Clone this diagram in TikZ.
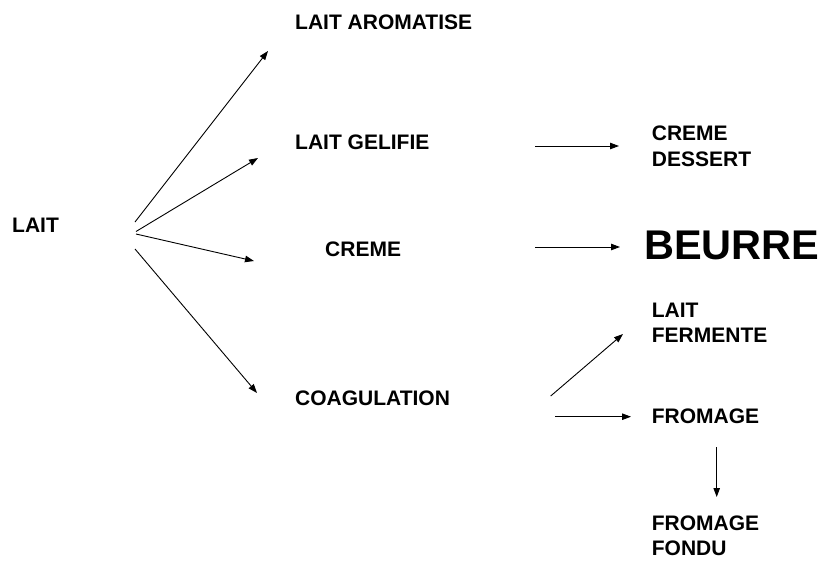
\documentclass[tikz,border=0pt]{standalone}
\usepackage{fontspec}
\setmainfont{Liberation Sans}
\usetikzlibrary{arrows.meta}
% two stacked lines whose baseline is the first line's
\newcommand{\twolines}[2]{\vtop{\baselineskip=25.5pt\hbox{#1}\hbox{#2}}}
\tikzset{
  label text/.style={anchor=base west, inner sep=0pt, font=\bfseries\fontsize{21}{25}\selectfont},
  big text/.style={anchor=base west, inner sep=0pt, font=\bfseries\fontsize{41.5}{46}\selectfont},
  flow/.style={line width=0.9pt, -{Triangle[length=9pt,width=6.5pt]}}
}
\begin{document}
\begin{tikzpicture}[x=1pt,y=-1pt]
\useasboundingbox (0,0) rectangle (824,562);
% products
\node[label text] (lait) at (12,232) {LAIT};
\node[label text] (arom) at (295,29.3) {LAIT AROMATISE};
\node[label text] (gel) at (295,149.3) {LAIT GELIFIE};
\node[label text] (creme) at (325,256.7) {CREME};
\node[label text] (coag) at (295,405) {COAGULATION};
\node[label text] (dessert) at (651.7,140.7) {\twolines{CREME}{DESSERT}};
\node[big text] (beurre) at (644,259.3) {BEURRE};
\node[label text] (ferm) at (651.7,317.3) {\twolines{LAIT}{FERMENTE}};
\node[label text] (fromage) at (651.7,423.3) {FROMAGE};
\node[label text] (fondu) at (651.7,530) {\twolines{FROMAGE}{FONDU}};
% arrow ends
\coordinate (l1) at (135,222);   \coordinate (a1) at (268,51);
\coordinate (l2) at (136,231.5); \coordinate (a2) at (258,158);
\coordinate (l3) at (136,234);   \coordinate (a3) at (254,261);
\coordinate (l4) at (135,249);   \coordinate (a4) at (257,393);
\coordinate (g1) at (535,146);   \coordinate (d1) at (619,146);
\coordinate (c1) at (535,247);   \coordinate (b1) at (620,247);
\coordinate (k1) at (550.7,396); \coordinate (f1) at (623,334);
\coordinate (k2) at (555,416.7); \coordinate (m1) at (631,416.7);
\coordinate (m2) at (716.7,447); \coordinate (n1) at (716.7,497);
% connectors
\draw[flow] (l1) -- (a1);
\draw[flow] (l2) -- (a2);
\draw[flow] (l3) -- (a3);
\draw[flow] (l4) -- (a4);
\draw[flow] (g1) -- (d1);
\draw[flow] (c1) -- (b1);
\draw[flow] (k1) -- (f1);
\draw[flow] (k2) -- (m1);
\draw[flow] (m2) -- (n1);
\end{tikzpicture}
\end{document}
